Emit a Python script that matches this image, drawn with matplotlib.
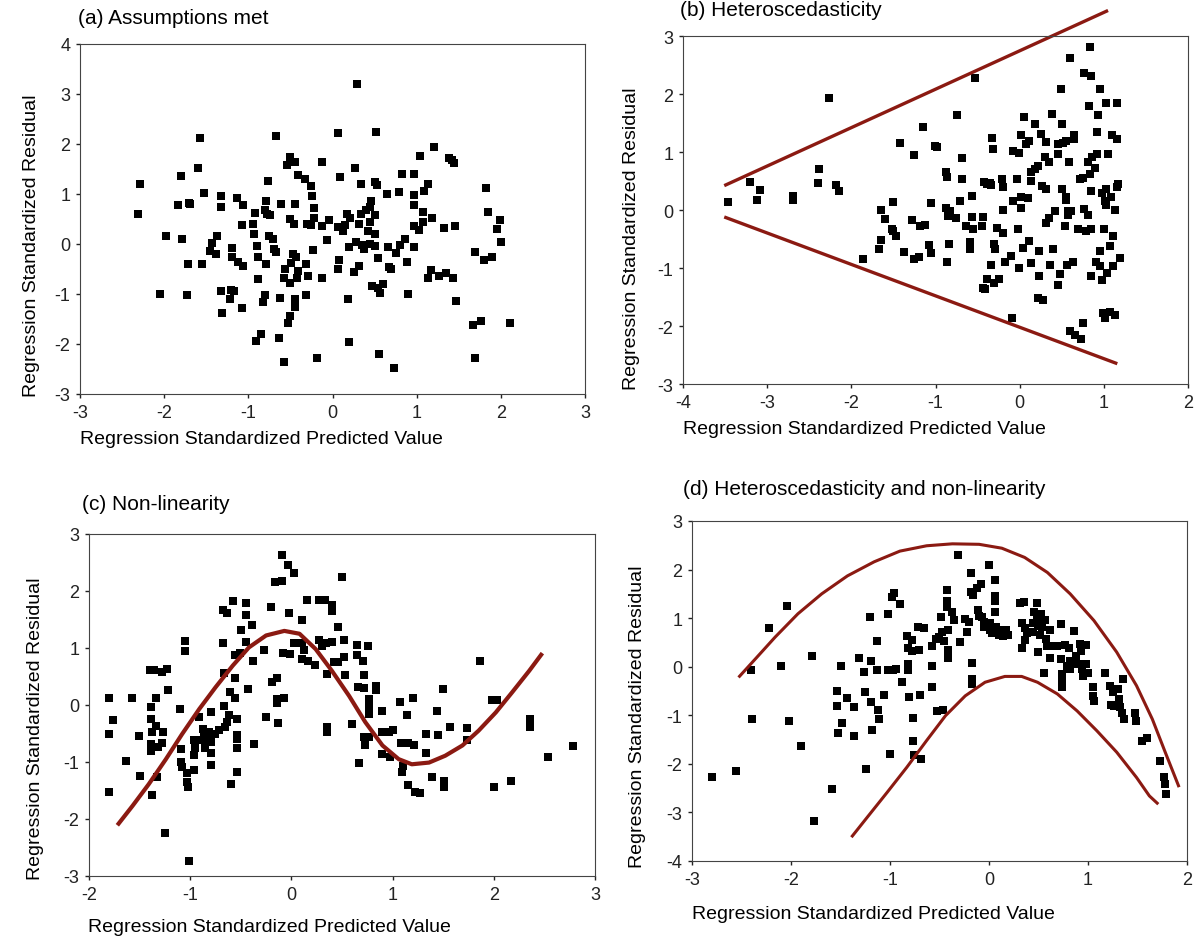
import matplotlib
matplotlib.use("Agg")
import matplotlib.pyplot as plt

plt.rcParams["font.family"] = ["Liberation Sans", "DejaVu Sans"]
plt.rcParams["axes.unicode_minus"] = False

W, H = 1197, 945
RED = "#8b1a12"

# (a) Assumptions met
a_x = [-2.29, -2.31, -1.98, -1.79, -2.05, -1.73, -1.83, -1.80, -1.70, -1.69, -1.72, -1.58, -1.60,
       -1.53, -1.55, -1.46, -1.43, -1.39, -1.37, -1.33, -1.32, -1.33, -1.31, -1.21, -1.17, -1.22,
       -1.19, -1.20, -1.14, -1.12, -1.06, -1.07, -1.06, -1.07, -0.94, -0.93, -0.92, -0.90, -0.88,
       -0.89, -0.91, -0.85, -0.83, -0.80, -0.80, -0.78, -0.77, -0.79, -0.76, -0.74, -0.79, -0.71,
       -0.69, -0.67, -0.67, -0.63, -0.61, -0.62, -0.58, -0.56, -0.58, -0.54, -0.51, -0.45, -0.51,
       -0.46, -0.51, -0.47, -0.43, -0.44, -0.49, -0.42, -0.41, -0.44, -0.45, -0.51, -0.53, -0.41,
       -0.33, -0.25, -0.24, -0.22, -0.22, -0.23, -0.32, -0.29, -0.32, -0.30, -0.26, -0.19, -0.13,
       -0.13, -0.12, -0.04, -0.06, 0.07, 0.09, 0.06, 0.08, 0.06, 0.13, 0.15, 0.17, 0.21, 0.19,
       0.20, 0.20, 0.25, 0.27, 0.29, 0.28, 0.31, 0.32, 0.34, 0.34, 0.35, 0.38, 0.40, 0.42, 0.44,
       0.45, 0.44, 0.46, 0.47, 0.50, 0.50, 0.51, 0.50, 0.52, 0.53, 0.54, 0.54, 0.56, 0.55, 0.60,
       0.65, 0.66, 0.67, 0.70, 0.73, 0.79, 0.80, 0.82, 0.75, 0.86, 0.89, 0.90, 0.97, 0.97, 0.97,
       0.97, 0.97, 1.03, 1.04, 1.08, 1.08, 1.09, 1.13, 1.13, 1.17, 1.18, 1.20, 1.27, 1.33, 1.35,
       1.39, 1.42, 1.44, 1.43, 1.45, 1.47, 1.67, 1.69, 1.69, 1.76, 1.82, 1.80, 1.85, 1.90, 1.95,
       1.99, 2.00, 2.11]
a_y = [1.20, 0.61, 0.17, 0.11, -1.00, -1.02, 0.79, 1.37, 0.83, 0.80, -0.40, 2.12, 1.53,
       1.02, -0.40, -0.13, 0.02, -0.20, 0.17, 0.97, 0.74, -0.94, -1.37, -0.91, -0.94, -1.09,
       -0.08, -0.25, 0.93, -0.36, 0.79, 0.38, -0.43, -1.27, 0.41, 0.21, 0.63, -0.03, -0.26,
       -0.69, -1.93, -1.80, -1.15, -1.01, 0.69, 0.61, 1.26, 0.87, 0.17, 0.58, -0.40, 0.11,
       -0.09, 2.16, -0.16, -1.87, 0.81, -1.07, -2.36, -0.50, -0.67, 1.58, 1.75, 1.65, 0.51,
       0.40, -0.77, -0.20, -0.25, 0.81, -0.38, -0.67, -0.53, -1.09, -1.26, -1.43, -1.57, 1.39,
       1.30, 1.16, 0.96, 0.73, 0.52, -0.12, -0.40, -0.63, -1.02, 0.40, 0.38, -2.27, 0.36,
       -0.67, 1.65, 0.48, 0.08, 2.22, 1.35, 0.34, -0.32, -0.50, 0.26, 0.38, 0.61, 0.52, -1.09,
       -1.96, -0.06, -0.56, 1.52, 3.20, 0.05, 0.40, -0.44, 1.21, 0.61, -0.01, -0.09, 0.69, 0.26,
       0.75, 0.45, 0.01, 0.86, -0.84, -0.03, 0.21, 0.59, 1.24, 2.25, 1.19, -0.28, -0.88, -0.98,
       -2.19, -0.79, 1.01, -0.05, -0.45, -0.50, -2.47, 1.04, -0.01, 1.40, -0.17, 0.11, -0.35,
       -0.99, 1.40, 0.98, 0.79, 0.36, -0.06, 0.29, 1.76, 0.64, 0.44, 1.06, 1.21, -0.67, -0.52,
       0.52, 1.95, -0.64, 0.32, -0.57, 1.72, 1.68, 1.62, -0.67, 0.37, -1.14, -1.62, -0.16, -2.28,
       -1.53, 1.12, -0.32, 0.64, -0.25, 0.31, 0.49, 0.04, -1.57]

# (b) Heteroscedasticity
b_x = [-3.47, -3.20, -3.09, -3.12, -2.69, -2.69, -2.40, -2.38, -2.27, -2.18, -2.15, -1.86, -1.67,
       -1.65, -1.65, -1.60, -1.51, -1.52, -1.50, -1.47, -1.42, -1.38, -1.28, -1.26, -1.25, -1.20,
       -1.18, -1.13, -1.15, -1.08, -1.05, -1.05, -1.01, -0.98, -0.87, -0.86, -0.87, -0.85, -0.83,
       -0.84, -0.86, -0.76, -0.74, -0.71, -0.68, -0.68, -0.64, -0.59, -0.59, -0.57, -0.57, -0.56,
       -0.53, -0.45, -0.43, -0.42, -0.39, -0.35, -0.34, -0.44, -0.41, -0.39, -0.34, -0.33, -0.32,
       -0.31, -0.30, -0.29, -0.27, -0.24, -0.21, -0.20, -0.20, -0.20, -0.17, -0.10, -0.09, -0.08,
       -0.08, -0.03, -0.02, -0.01, -0.01, 0.01, 0.02, 0.01, 0.04, 0.05, 0.07, 0.10, 0.11, 0.11,
       0.13, 0.14, 0.14, 0.18, 0.18, 0.22, 0.23, 0.23, 0.22, 0.25, 0.26, 0.28, 0.31, 0.30, 0.31,
       0.31, 0.35, 0.35, 0.36, 0.38, 0.40, 0.42, 0.45, 0.45, 0.46, 0.48, 0.49, 0.50, 0.50, 0.52,
       0.54, 0.55, 0.55, 0.55, 0.57, 0.57, 0.56, 0.59, 0.60, 0.61, 0.64, 0.64, 0.63, 0.60, 0.66,
       0.69, 0.72, 0.73, 0.75, 0.75, 0.76, 0.77, 0.79, 0.81, 0.81, 0.82, 0.83, 0.84, 0.85, 0.85,
       0.85, 0.85, 0.86, 0.89, 0.91, 0.92, 0.92, 0.93, 0.95, 0.95, 0.96, 0.98, 0.98, 0.99, 1.00,
       1.01, 1.01, 1.02, 1.02, 1.02, 1.04, 1.05, 1.07, 1.07, 1.09, 1.10, 1.11, 1.11, 1.13, 1.13,
       1.16, 1.16, 1.16, 1.17, 1.19]
b_y = [0.14, 0.48, 0.35, 0.17, 0.24, 0.18, 0.46, 0.70, 1.93, 0.43, 0.33, -0.85, -0.67,
       -0.52, 0.00, -0.16, 0.14, -0.33, -0.36, -0.45, 1.15, -0.73, -0.17, 0.95, -0.85, -0.81,
       -0.28, -0.25, 1.43, -0.61, -0.74, 0.12, 1.11, 1.08, 0.65, 0.57, 0.04, -0.10, -0.02,
       -0.58, -0.90, -0.13, 1.64, 0.16, 0.89, 0.54, -0.28, -0.55, -0.68, 0.25, -0.12, -0.32,
       2.28, -0.28, -0.12, 0.48, 0.44, 0.46, 0.43, -1.34, -1.37, -1.19, -0.94, 1.25, 1.05,
       -1.25, -0.59, -0.68, -0.31, -1.19, 0.53, 0.39, -0.39, 0.00, -0.90, -0.80, -1.86, 1.02,
       0.16, 0.53, -0.33, 0.99, -1.00, 0.23, 0.04, 1.29, -0.65, 1.60, 1.14, 0.20, 1.19, -0.54,
       0.65, 0.50, -0.91, 1.48, 0.70, 0.76, -0.71, -1.13, -1.51, 1.31, 0.42, -1.55, 1.18, 0.91,
       0.37, -0.22, 0.82, -0.13, -0.94, 1.66, -0.67, -0.02, 0.96, 1.14, -1.30, -1.11, 2.08,
       1.48, 0.36, 1.15, -0.27, 0.23, 0.18, 1.19, -0.02, -0.09, -0.94, 0.83, 2.62, -0.02,
       1.29, 1.22, -0.90, -2.09, -2.15, -0.33, 0.53, -2.23, -1.95, 0.56, 2.37, 0.02, -0.36,
       -0.08, 0.82, 1.80, 0.62, 2.81, -0.33, -1.13, 2.31, 0.33, 0.92, 0.72, -0.90, 1.35, 0.96,
       1.63, 2.08, -0.71, -0.97, 0.30, -1.20, -1.78, -0.33, 0.16, -1.86, 0.08, 0.37, 1.85,
       -1.08, 0.96, -0.62, -1.75, 0.23, 1.29, -0.45, -0.96, 0.00, -1.81, 1.22, 1.85, 0.39,
       0.44, -0.83]
b_upper_x = [-3.51, 1.05]
b_upper_y = [0.42, 3.44]
b_lower_x = [-3.51, 1.16]
b_lower_y = [-0.12, -2.65]

# (c) Non-linearity
c_x = [-1.80, -1.80, -1.76, -1.80, -1.63, -1.58, -1.51, -1.50, -1.40, -1.36, -1.34, -1.39, -1.39,
       -1.38, -1.39, -1.39, -1.34, -1.32, -1.28, -1.27, -1.28, -1.33, -1.38, -1.23, -1.22, -1.25,
       -1.10, -1.09, -1.09, -1.08, -1.05, -1.05, -1.03, -1.03, -1.02, -1.01, -0.96, -0.96, -0.96,
       -0.95, -0.91, -0.91, -0.87, -0.86, -0.85, -0.83, -0.81, -0.79, -0.79, -0.79, -0.79, -0.75,
       -0.72, -0.68, -0.64, -0.68, -0.67, -0.67, -0.66, -0.64, -0.62, -0.61, -0.60, -0.58, -0.56,
       -0.56, -0.56, -0.54, -0.54, -0.54, -0.54, -0.54, -0.51, -0.50, -0.45, -0.45, -0.45, -0.43,
       -0.39, -0.38, -0.37, -0.27, -0.25, -0.20, -0.19, -0.16, -0.14, -0.14, -0.14, -0.13, -0.09,
       -0.09, -0.07, -0.08, -0.03, -0.02, -0.01, 0.03, 0.03, 0.10, 0.10, 0.12, 0.10, 0.15, 0.16,
       0.23, 0.27, 0.33, 0.27, 0.30, 0.34, 0.35, 0.35, 0.35, 0.40, 0.40, 0.40, 0.42, 0.46, 0.46,
       0.50, 0.52, 0.52, 0.53, 0.60, 0.65, 0.65, 0.66, 0.67, 0.71, 0.72, 0.72, 0.72, 0.73, 0.76,
       0.77, 0.77, 0.77, 0.77, 0.84, 0.84, 0.90, 0.90, 0.90, 0.96, 0.97, 1.00, 1.07, 1.08, 1.09,
       1.10, 1.14, 1.15, 1.15, 1.20, 1.21, 1.22, 1.27, 1.33, 1.33, 1.39, 1.44, 1.45, 1.50, 1.51,
       1.51, 1.57, 1.74, 1.74, 1.86, 1.98, 2.03, 2.00, 2.17, 2.36, 2.36, 2.54, 2.78]
c_y = [0.12, -0.51, -0.26, -1.52, -0.98, 0.13, -0.55, -1.25, 0.62, 0.62, 0.13, -0.04, -0.24,
       -0.47, -0.68, -0.81, -0.36, -0.73, 0.58, -0.47, -0.66, -1.27, -1.58, 0.64, 0.26, -2.24,
       -0.07, -0.77, -1.00, -1.08, 1.13, 0.94, -1.19, -1.35, -1.44, -2.74, -1.14, -0.62, -0.88,
       -0.75, -0.21, -0.62, -0.42, -0.50, -0.76, -0.62, -0.47, -0.13, -0.65, -0.85, -1.05, -0.50,
       -0.44, 1.66, 1.62, 1.08, 0.57, -0.02, -0.39, -0.30, -0.17, 0.23, -1.38, 1.82, 0.87,
       0.47, 0.12, -0.25, -0.53, -0.60, -0.76, -1.17, 0.91, 1.32, 1.79, 1.58, 1.11, 0.28,
       1.40, 0.78, -0.68, 0.97, -0.21, 1.72, 0.41, 2.16, 0.48, 0.10, 0.03, -0.31, 2.64,
       2.18, 0.12, 0.91, 2.45, 1.62, 0.89, 2.31, 1.08, 1.49, 1.08, 0.97, 0.81, 1.85, 0.77,
       0.71, 1.85, 1.85, 1.14, 1.03, 1.08, 0.54, -0.39, -0.47, 1.75, 1.65, 1.10, 0.75, 1.36, 0.75,
       2.25, 1.14, 0.85, 0.53, -0.33, 1.06, 0.88, 0.31, -1.01, 0.78, 0.29, 0.52, -0.56, -0.70, 1.04,
       0.10, -0.02, -0.16, -0.56, 0.33, 0.26, -0.11, -0.47, -0.86, -0.47, -0.92, -0.43, 0.06, -0.66,
       -1.17, -1.07, -0.18, -0.66, -1.41, 0.13, -0.70, -1.52, -1.55, -0.51, -0.85, -1.27, -0.11, -0.53,
       0.28, -1.34, -1.44, -0.39, -0.40, -0.62, 0.78, 0.08, 0.08, -1.43, -1.34, -0.25, -0.39, -0.92, -0.72]
c_curve_x = [-1.72, -1.57, -1.41, -1.24, -1.08, -0.91, -0.75, -0.58, -0.42, -0.25, -0.07, 0.08,
             0.24, 0.40, 0.57, 0.73, 0.90, 1.06, 1.19, 1.36, 1.52, 1.69, 1.85, 2.02, 2.18, 2.35, 2.48]
c_curve_y = [-2.11, -1.77, -1.39, -0.95, -0.51, -0.07, 0.31, 0.69, 1.01, 1.22, 1.30, 1.25,
             0.98, 0.60, 0.16, -0.30, -0.71, -0.95, -1.04, -1.01, -0.89, -0.71, -0.45, -0.13, 0.22, 0.60, 0.91]

# (d) Heteroscedasticity and non-linearity
d_x = [-2.80, -2.56, -2.40, -2.39, -2.22, -2.10, -2.04, -2.02, -1.90, -1.79, -1.77, -1.59, -1.54,
       -1.54, -1.53, -1.50, -1.48, -1.43, -1.36, -1.36, -1.31, -1.26, -1.25, -1.24, -1.20, -1.19,
       -1.19, -1.18, -1.13, -1.13, -1.12, -1.11, -1.06, -1.02, -1.02, -1.00, -0.97, -0.98, -0.96,
       -0.94, -0.90, -0.88, -0.83, -0.82, -0.82, -0.82, -0.81, -0.78, -0.78, -0.77, -0.77, -0.76,
       -0.71, -0.72, -0.70, -0.69, -0.66, -0.58, -0.58, -0.58, -0.54, -0.53, -0.50, -0.47, -0.46,
       -0.45, -0.48, -0.42, -0.42, -0.42, -0.41, -0.41, -0.41, -0.37, -0.35, -0.31, -0.29, -0.24,
       -0.22, -0.20, -0.18, -0.18, -0.17, -0.17, -0.17, -0.16, -0.12, -0.11, -0.10, -0.08, -0.07,
       -0.05, -0.05, 0.00, 0.01, 0.01, 0.03, 0.06, 0.06, 0.06, 0.06, 0.07, 0.10, 0.11, 0.12, 0.14,
       0.17, 0.19, 0.31, 0.33, 0.33, 0.35, 0.36, 0.36, 0.38, 0.44, 0.44, 0.45, 0.48, 0.48, 0.50,
       0.50, 0.52, 0.53, 0.54, 0.56, 0.57, 0.58, 0.59, 0.62, 0.62, 0.66, 0.69, 0.73, 0.73, 0.74,
       0.74, 0.74, 0.77, 0.79, 0.81, 0.82, 0.82, 0.86, 0.88, 0.90, 0.92, 0.93, 0.94, 0.95, 0.98,
       0.98, 1.00, 1.05, 1.05, 1.06, 1.17, 1.22, 1.23, 1.25, 1.26, 1.30, 1.31, 1.32, 1.34, 1.35,
       1.36, 1.47, 1.48, 1.55, 1.60, 1.73, 1.77, 1.78, 1.79]
d_y = [-2.28, -2.14, -0.07, -1.08, 0.79, 0.01, 1.26, -1.12, -1.64, 0.23, -3.17, -2.52, -0.49,
       -0.81, -1.37, 0.01, -1.15, -0.65, -0.83, -1.42, 0.18, -0.11, -0.53, -2.11, 1.02, 0.11,
       -0.73, -1.30, 0.52, -0.07, -0.90, -1.08, -0.59, -0.07, 1.08, -1.79, -0.07, 1.44, 1.51,
       -0.05, 1.29, -0.32, 0.63, 0.38, 0.05, -0.07, -0.63, 0.55, 0.32, -1.05, -1.52, -1.81,
       0.35, 0.82, -0.59, -1.89, 0.79, 0.42, 0.01, -0.41, 0.57, -0.92, 0.62, 0.72, -0.90,
       0.52, 1.02, 1.58, 1.36, 1.23, 0.76, 0.35, 0.18, 1.13, 0.96, 2.29, 0.50, 0.99,
       0.72, 0.92, 1.92, 1.53, 0.08, -0.26, -0.36, 1.48, 1.63, 1.16, 1.04, 1.70, 1.02,
       0.92, 0.82, 2.09, 0.89, 0.76, 0.69, 1.78, 1.46, 1.36, 1.13, 0.82, 0.65, 0.74, 0.76, 0.63,
       0.76, 0.65, 1.31, 0.38, 0.89, 1.33, 0.79, 0.55, 0.69, 0.89, 0.72, 1.13, 0.99, 1.31, 0.30,
       0.84, 0.65, 1.09, 0.82, -0.13, 0.96, 0.57, 0.42, 0.18, 0.76, 0.42, 0.42, 0.88, 0.16, -0.16,
       -0.29, -0.42, 0.45, 0.01, 0.38, 0.11, -0.05, 0.74, 0.22, 0.05, 0.47, 0.32, -0.04, -0.19, 0.45,
       0.05, -0.12, -0.42, -0.61, -0.71, -0.13, -0.39, -0.78, -0.53, -0.80, -0.46, -0.66, -0.83, -0.96, -0.26,
       -1.08, -0.96, -1.12, -1.52, -1.47, -1.94, -2.28, -2.41, -2.62]
d_upper_x = [-2.53, -2.36, -2.16, -1.93, -1.69, -1.43, -1.16, -0.90, -0.63, -0.37, -0.10, 0.13,
             0.36, 0.59, 0.82, 1.06, 1.29, 1.49, 1.65, 1.78, 1.92]
d_upper_y = [-0.22, 0.16, 0.61, 1.09, 1.50, 1.87, 2.16, 2.38, 2.49, 2.53, 2.52, 2.44,
             2.25, 1.94, 1.50, 0.95, 0.30, -0.39, -1.08, -1.76, -2.48]
d_lower_x = [-1.39, -1.23, -1.03, -0.83, -0.63, -0.44, -0.24, -0.04, 0.16, 0.33, 0.49, 0.69,
             0.89, 1.09, 1.29, 1.49, 1.62, 1.71]
d_lower_y = [-3.51, -3.10, -2.59, -2.07, -1.52, -1.01, -0.60, -0.32, -0.20, -0.20, -0.32, -0.56,
             -0.91, -1.32, -1.76, -2.28, -2.66, -2.83]


def make_axes(fig, left, right, top, bottom):
    return fig.add_axes([left / W, 1 - bottom / H, (right - left) / W, (bottom - top) / H])


def style(ax, xlim, ylim):
    ax.set_xlim(*xlim)
    ax.set_ylim(*ylim)
    ax.set_xticks(range(xlim[0], xlim[1] + 1))
    ax.set_yticks(range(ylim[0], ylim[1] + 1))
    ax.tick_params(labelsize=13, length=3, width=1, colors="#222222", pad=4)
    for s in ax.spines.values():
        s.set_linewidth(0.8)
        s.set_color("#444444")


def scatter(ax, x, y):
    ax.plot(x, y, "s", color="black", markersize=5.6, markeredgewidth=0, linestyle="none")


def curve(ax, x, y, lw):
    ax.plot(x, y, color=RED, lw=lw, clip_on=False, solid_joinstyle="round", solid_capstyle="butt")


fig = plt.figure(figsize=(W / 100, H / 100), dpi=100)

ax_a = make_axes(fig, 80, 585, 45, 395)
ax_b = make_axes(fig, 683, 1188, 37, 385)
ax_c = make_axes(fig, 89, 595, 535, 877)
ax_d = make_axes(fig, 692, 1187, 522, 862)

scatter(ax_a, a_x, a_y)
style(ax_a, (-3, 3), (-3, 4))

scatter(ax_b, b_x, b_y)
curve(ax_b, b_upper_x, b_upper_y, 2.4)
curve(ax_b, b_lower_x, b_lower_y, 2.4)
style(ax_b, (-4, 2), (-3, 3))

scatter(ax_c, c_x, c_y)
curve(ax_c, c_curve_x, c_curve_y, 3)
style(ax_c, (-2, 3), (-3, 3))

scatter(ax_d, d_x, d_y)
curve(ax_d, d_upper_x, d_upper_y, 2.2)
curve(ax_d, d_lower_x, d_lower_y, 2.2)
style(ax_d, (-3, 2), (-4, 3))

# panel titles and axis labels
titles = ["(a) Assumptions met", "(b) Heteroscedasticity", "(c) Non-linearity",
          "(d) Heteroscedasticity and non-linearity"]
title_pos = [(78, 18), (680, 11), (82, 505), (683, 490)]
xlabel_pos = [(80, 440), (683, 430), (88, 928), (692, 915)]
ylabel_pos = [(32, 397), (632, 390), (36, 880), (638, 868)]

for t, (tx, ty) in zip(titles, title_pos):
    fig.text(tx / W, 1 - ty / H, t, fontsize=15, ha="left", va="center")
for (lx, ly) in xlabel_pos:
    fig.text(lx / W, 1 - ly / H, "Regression Standardized Predicted Value", fontsize=14,
             ha="left", va="center")
for (lx, ly) in ylabel_pos:
    fig.text(lx / W, 1 - ly / H, "Regression Standardized Residual", fontsize=14,
             ha="center", va="bottom", rotation=90)

plt.savefig("out.png", dpi=100)
